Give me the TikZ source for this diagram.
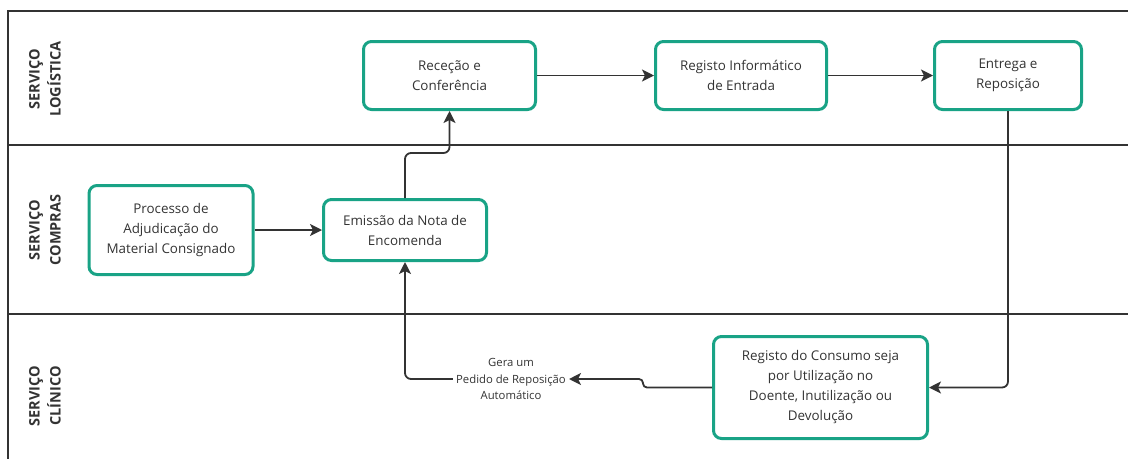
\documentclass[tikz,border=0pt]{standalone}
\usepackage{fontspec}
\setmainfont{Open Sans}
\usetikzlibrary{arrows.meta}
\definecolor{boxgreen}{HTML}{19A386}
\definecolor{ink}{HTML}{333333}
\begin{document}
\begin{tikzpicture}[x=1pt,y=-1pt,
  proc/.style={draw=boxgreen, line width=3pt, rounded corners=8pt, align=center,
    font=\fontsize{13.4}{20}\selectfont, text=ink, inner sep=0pt},
  lane/.style={rotate=90, align=center, font=\fontsize{14.5}{21}\selectfont\bfseries, text=ink},
  conn/.style={draw=ink, line width=1.8pt, -{Stealth[length=12pt,width=12pt,inset=3pt]}},
  frame/.style={draw=ink, line width=2pt},
  small/.style={align=center, font=\fontsize{11.3}{16.5}\selectfont, text=ink, inner sep=3pt}]
\useasboundingbox (0,0) rectangle (1128,459);
% frame
\draw[frame] (1128,11) -- (8,11) -- (8,459);
\draw[frame] (8,145) -- (1128,145);
\draw[frame] (8,314) -- (1128,314);
% lane labels
\node[lane] (l1) at (45,79) {SERVIÇO\\LOGÍSTICA};
\node[lane] (l2) at (45,230) {SERVIÇO\\COMPRAS};
\node[lane] (l3) at (45,396) {SERVIÇO\\CLÍNICO};
% boxes
\node[proc, minimum width=172pt, minimum height=68pt] (rec) at (449.5,75.5) {Receção e\\Conferência};
\node[proc, minimum width=171pt, minimum height=68pt] (reg) at (741,75.5) {Registo Informático\\de Entrada};
\node[proc, minimum width=147pt, minimum height=68pt] (ent) at (1008,75.5) {Entrega e\\Reposição};
\node[proc, minimum width=164pt, minimum height=89pt] (adj) at (171,230) {Processo de\\Adjudicação do\\Material Consignado};
\node[proc, minimum width=163pt, minimum height=61pt] (emi) at (405,230) {Emissão da Nota de\\Encomenda};
\node[proc, minimum width=214pt, minimum height=102pt] (con) at (820.5,387.5) {Registo do Consumo seja\\por Utilização no\\Doente, Inutilização ou\\Devolução};
\node[small] (lbl) at (511,379) {Gera um\\Pedido de Reposição\\Automático};
% connectors
\draw[conn] (adj.east) -- (emi.west);
\draw[conn, rounded corners=6pt] (emi.north) -- ++(0,-45) -| (rec.south);
\draw[conn] (rec.east) -- (reg.west);
\draw[conn] (reg.east) -- (ent.west);
\draw[conn, rounded corners=6pt] (ent.south) |- (con.east);
\draw[conn, rounded corners=4pt] (con.west) -- ++(-69,0) |- (lbl.east);
\draw[conn, rounded corners=6pt] (lbl.west) -| (emi.south);
\end{tikzpicture}
\end{document}
